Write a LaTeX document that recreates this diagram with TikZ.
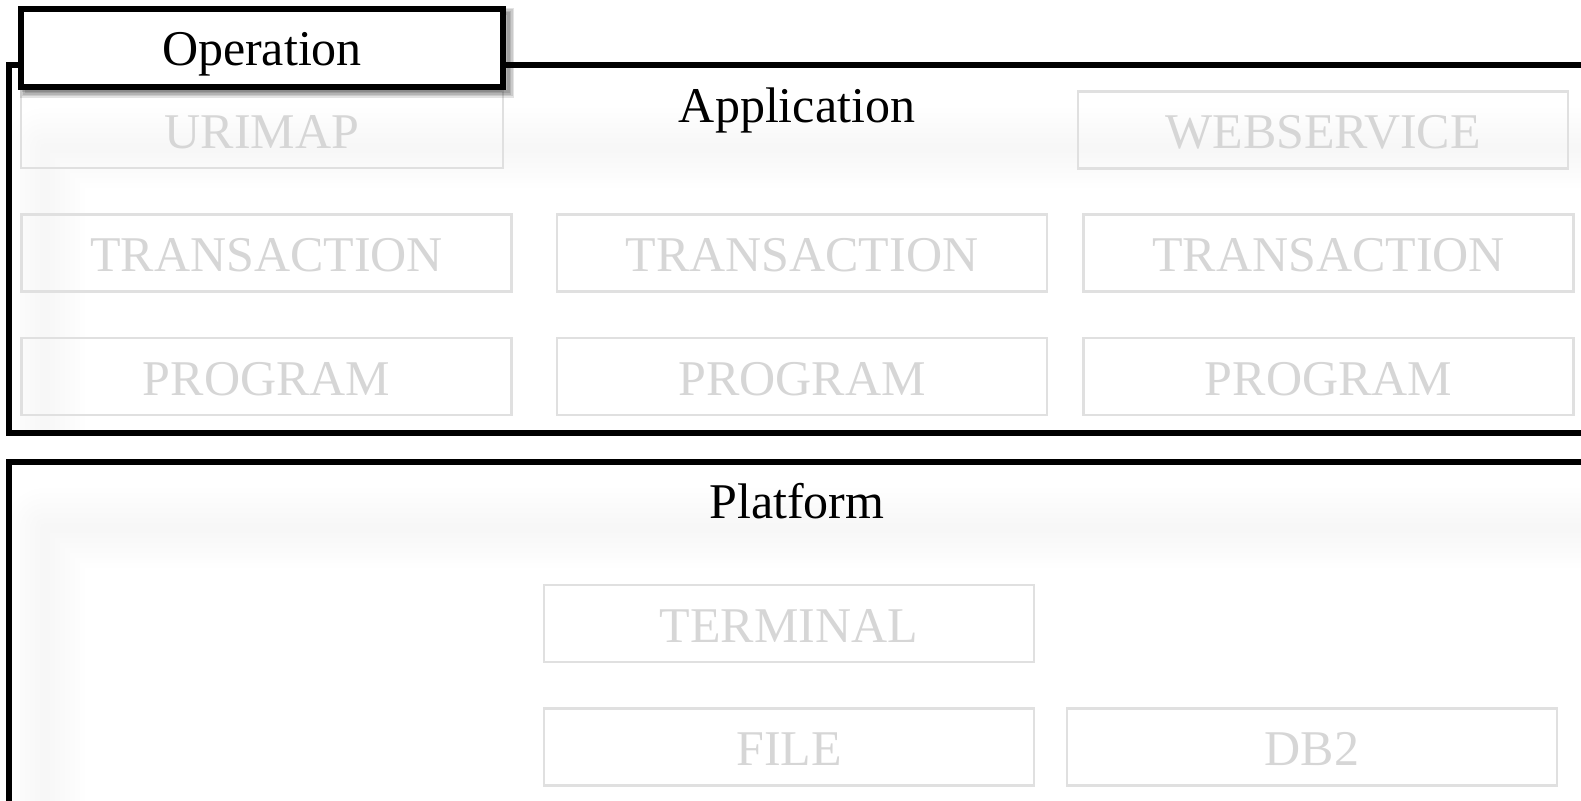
\documentclass[tikz,border=0pt]{standalone}
\usepackage{fontspec}
\setmainfont{Liberation Serif}

\begin{document}
\begin{tikzpicture}[
    x=0.5pt, y=-0.5pt,
    font=\fontsize{25}{30}\selectfont,
    % Rahmen der Schichten
    layer/.style={draw=black, line width=2.6pt},
    % Ueberschrift einer Schicht
    heading/.style={yshift=-2pt},
    % Ressourcen (ausgegraut)
    resource/.style={draw=black!12, line width=1.4pt, text=black!16,
                     minimum width=245pt, minimum height=38.5pt, inner sep=0pt,
                     text height=19pt, text depth=0pt},
    % Reiter oben links
    optab/.style={draw=black, line width=2.6pt, fill=white,
                  minimum width=241pt, minimum height=39pt, inner sep=0pt,
                  text height=23pt, text depth=5.5pt},
    % weicher Schatten
    soft/.style={black, opacity=0.0055, line join=round, line cap=round}
]

\useasboundingbox (0,0) rectangle (1581,801);
\clip (0,0) rectangle (1581,801);
\fill[white] (0,0) rectangle (1581,801);

% --- APPLICATION ---
\begin{scope}
    \clip (9,65) rectangle (1620,433);
    \foreach \w in {5,10,...,40}
        \draw[soft, line width=\w pt] (45,460) -- (45,148) -- (1640,148);
\end{scope}
\draw[layer] (9,65) rectangle (1620,433);
\node[heading] (app) at (797,106) {Application};

\node[resource, minimum width=241pt] (urimap) at (262,129.5) {URIMAP};
\node[resource] (websvc) at (1323,130) {WEBSERVICE};

\node[resource] (tran1) at (266.5,253) {TRANSACTION};
\node[resource] (tran2) at (802,253) {TRANSACTION};
\node[resource] (tran3) at (1328.5,253) {TRANSACTION};

\node[resource] (prog1) at (266.5,376.5) {PROGRAM};
\node[resource] (prog2) at (802,376.5) {PROGRAM};
\node[resource] (prog3) at (1328.5,376.5) {PROGRAM};

% --- PLATFORM ---
\begin{scope}
    \clip (9,462) rectangle (1620,840);
    \foreach \w in {5,10,...,40}
        \draw[soft, line width=\w pt] (45,860) -- (45,528) -- (1640,528);
\end{scope}
\draw[layer] (9,462) rectangle (1620,840);
\node (plat) at (797,501) {Platform};

\node[resource] (term) at (789,623.5) {TERMINAL};
\node[resource] (file) at (789,747) {FILE};
\node[resource] (db2) at (1312,747) {DB2};

% --- OPERATION ---
\foreach \w in {1.5,3,4.5,6}
    \draw[black, opacity=0.11, line width=\w pt] (26,14) rectangle (508,92);
\node[optab] (op) at (262,48) {Operation};

\end{tikzpicture}
\end{document}
